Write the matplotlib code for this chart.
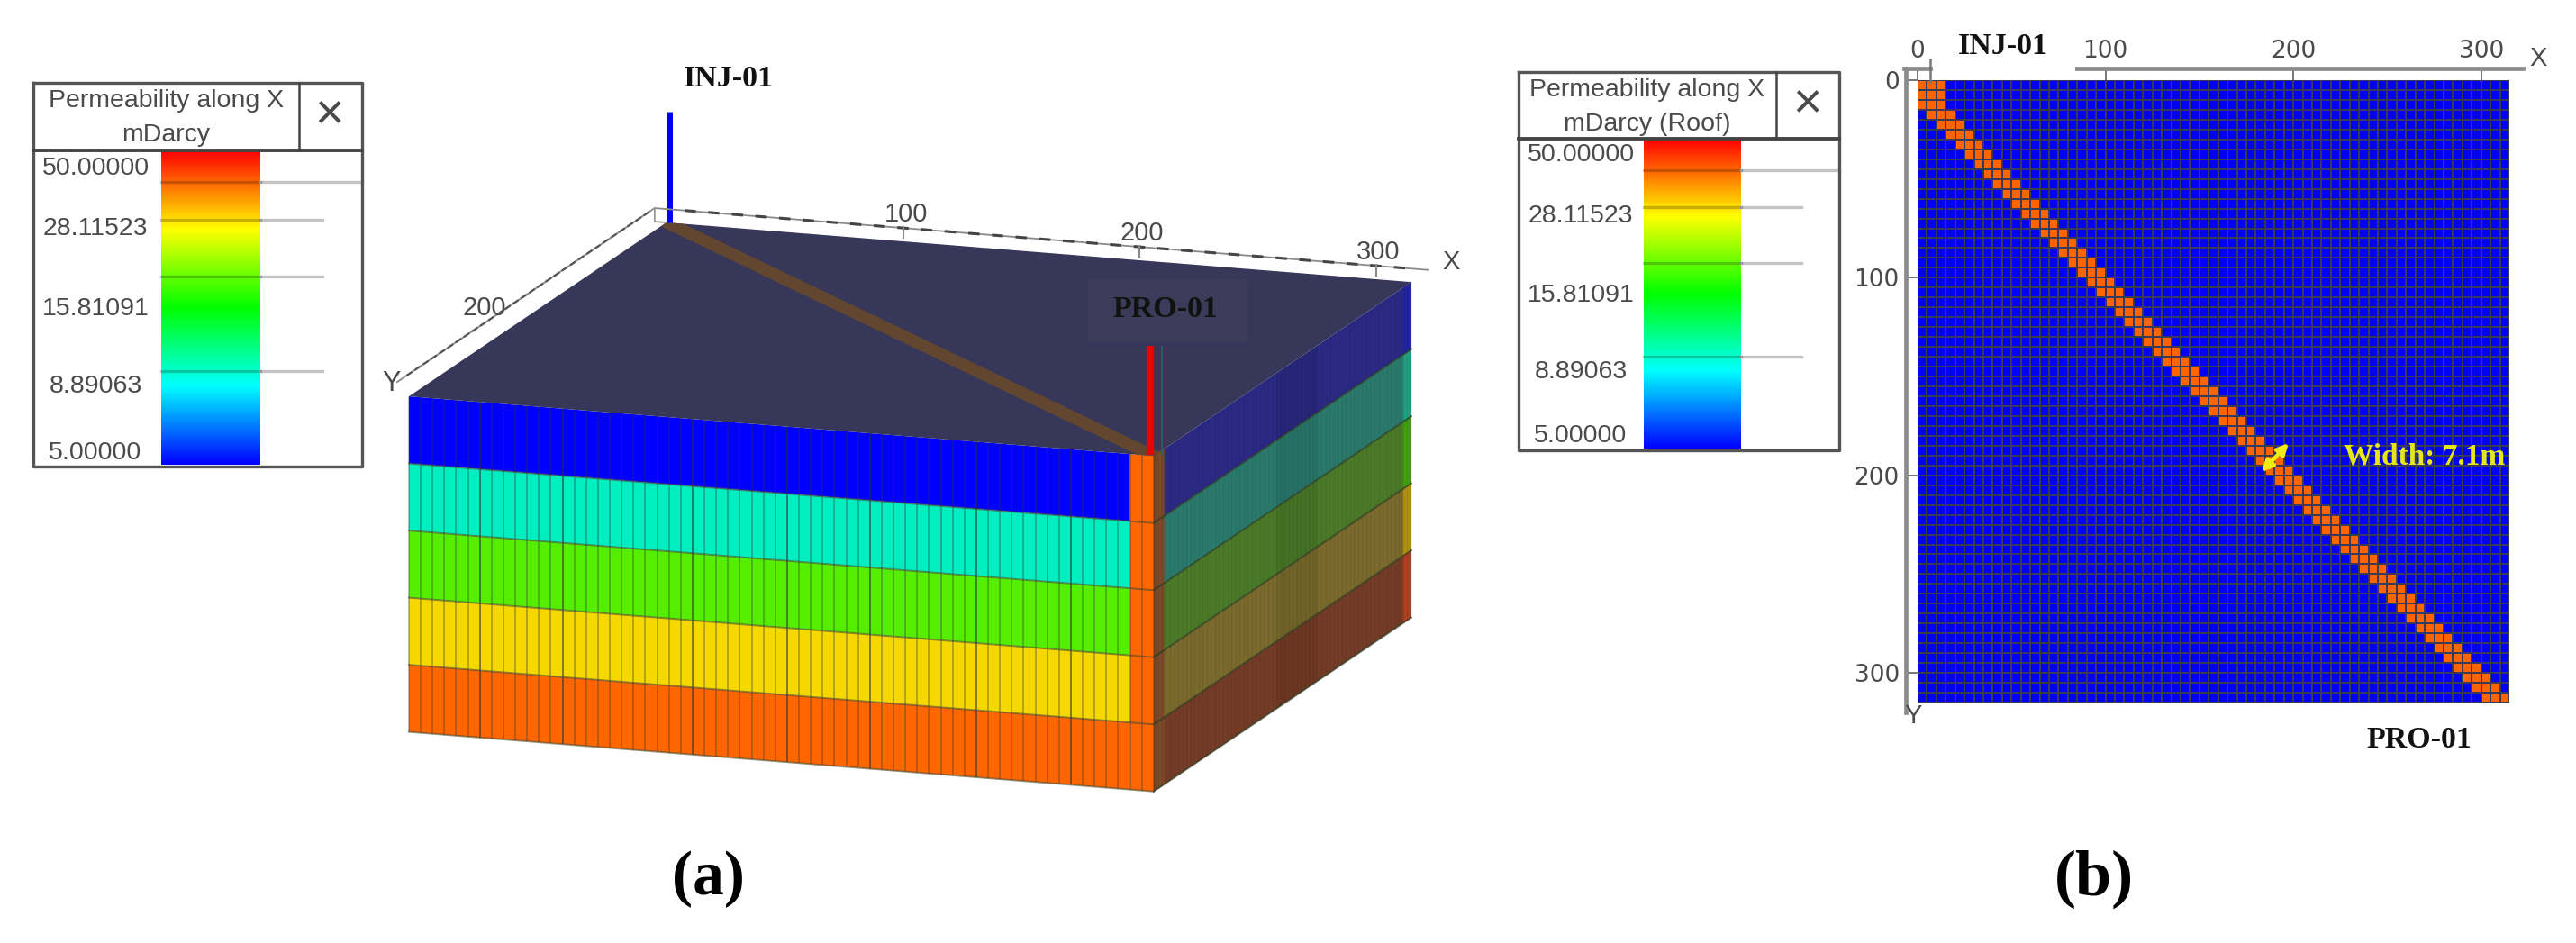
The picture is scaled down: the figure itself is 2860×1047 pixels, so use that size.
import numpy as np
import matplotlib
matplotlib.use("Agg")
import matplotlib.pyplot as plt
from matplotlib.collections import LineCollection
from matplotlib.colors import LinearSegmentedColormap, ListedColormap, LogNorm

#=============
# 1. THE VALUES
#=============
bar_values = [5.0, 8.89063, 15.81091, 28.11523, 50.0]
bar_labels = ["50.00000", "28.11523", "15.81091", "8.89063", "5.00000"]
bar_colors = ["#0000ff", "#00ffff", "#00ff00", "#ffff00", "#ff0000"]

# model grid (metres), 5 layers, cells of 5 m
cell_edges = [5 * i for i in range(64)]
model_size = 315
layer_tops = [0, 1, 2, 3, 4]
layer_colors = ["#0000ff", "#00eec0", "#55ee00", "#f5d800", "#ff6600"]
shade_colors = ["#2a2a84", "#2a7a6c", "#4a7a28", "#7a6a2c", "#743c26"]
edge_colors = ["#2222a4", "#20a080", "#40a010", "#b09010", "#b04020"]
heavy_lines = [6, 13, 24, 32, 39, 48, 56]

axis_ticks = [100, 200, 300]
axis_minor = [10, 20, 30, 40, 50, 60, 70, 80, 90, 110, 120, 130, 140, 150, 160, 170, 180,
              190, 210, 220, 230, 240, 250, 260, 270, 280, 290, 310]

# roof view: first column of the fracture in each row (three cells wide)
band_start = [0, 0, 0, 1, 2, 3, 4, 5, 6, 7, 8, 9, 10, 11, 12, 13, 14, 15, 16, 17, 18,
              19, 20, 21, 22, 23, 24, 25, 26, 27, 28, 29, 30, 31, 32, 33, 34, 35, 36, 37, 38,
              39, 40, 41, 42, 43, 44, 45, 46, 47, 48, 49, 50, 51, 52, 53, 54, 55, 56, 57, 58,
              59, 60]
map_ticks = [0, 100, 200, 300]

SANS = "Liberation Sans"
SERIF = "Liberation Serif"
GREY = "#4a4a4a"

#=================
# 2. BLOCK GEOMETRY
#=================
ORIGIN = (740.0, 247.0)
X_VEC = (2.625, 0.21)
Y_VEC = (-0.908, 0.613)
Z_VEC = 74.5


def project(x, y, z=0.0):
    """model position to canvas pixels"""
    px = ORIGIN[0] + x * X_VEC[0] + y * Y_VEC[0]
    py = ORIGIN[1] + x * X_VEC[1] + y * Y_VEC[1] + z * Z_VEC
    return px, py


def fill_model(ax, pts, color, zorder=2, alpha=None):
    xy = [project(*p) for p in pts]
    ax.fill(*zip(*xy), color=color, lw=0, zorder=zorder, alpha=alpha)


def draw_legend(ax, box, line_y, div_x, bar_x, title, ticks_y, short_x, label_x, label_y, close_xy):
    x0, x1, y0, y1 = box
    ax.fill([x0, x1, x1, x0], [y0, y0, y1, y1], color="white", zorder=3)
    grad = np.geomspace(bar_values[-1], bar_values[0], 256).reshape(-1, 1)
    pos = np.log(bar_values) - np.log(bar_values[0])
    pos = pos / pos[-1]
    cmap = LinearSegmentedColormap.from_list("rainbow5", list(zip(pos, bar_colors)))
    ax.imshow(grad, cmap=cmap, norm=LogNorm(bar_values[0], bar_values[-1]), aspect="auto",
              extent=(bar_x[0], bar_x[1], y1 - 2, line_y), zorder=4, interpolation="bilinear")
    ax.plot([x0, x1, x1, x0, x0], [y0, y0, y1, y1, y0], color="#555555", lw=2.4, zorder=6)
    ax.plot([x0, x1], [line_y, line_y], color="#444444", lw=2.8, zorder=6)
    ax.plot([div_x, div_x], [y0, line_y], color="#444444", lw=1.8, zorder=6)
    for i, y in enumerate(ticks_y):
        end = x1 if i == 0 else short_x
        ax.plot([bar_x[1], end], [y, y], color="#c4c4c4", lw=2.4, zorder=5)
        ax.plot(bar_x, [y, y], color="black", alpha=0.22, lw=2.4, zorder=5)
    for lab, y in zip(bar_labels, label_y):
        ax.text(label_x, y, lab, family=SANS, fontsize=20.5, color=GREY, ha="center", va="center", zorder=7)
    ax.text((x0 + div_x) / 2, y0 + 20, title[0], family=SANS, fontsize=20.5, color=GREY,
            ha="center", va="center", zorder=7)
    ax.text((x0 + div_x) / 2, y0 + 58, title[1], family=SANS, fontsize=20.5, color=GREY,
            ha="center", va="center", zorder=7)
    ax.text(close_xy[0], close_xy[1], "\u00d7", family=SANS, fontsize=40, color=GREY,
            ha="center", va="center", zorder=7)


#===============
# 3. FIGURE SETUP
#===============
W, H = 2860, 1047
fig = plt.figure(figsize=(W / 100, H / 100), dpi=100)

# roof map lives in its own axes with real metre scales
ax_map = fig.add_axes([2129 / W, (H - 780) / H, 657 / W, 691 / H], zorder=1)
canvas = fig.add_axes([0, 0, 1, 1], zorder=2)
canvas.patch.set_alpha(0)
canvas.axis("off")

#=================
# 4. 3D BLOCK (a)
#=================
n_layers = len(layer_tops)

# left face
for k, col in zip(layer_tops, layer_colors):
    fill_model(canvas, [(0, model_size, k), (305, model_size, k), (305, model_size, k + 1), (0, model_size, k + 1)], col)
fill_model(canvas, [(305, model_size, 0), (model_size, model_size, 0), (model_size, model_size, 5), (305, model_size, 5)], "#ff6600")

segs, heavy = [], []
for i, xe in enumerate(cell_edges):
    seg = [project(xe, model_size, 0), project(xe, model_size, n_layers)]
    (heavy if i in heavy_lines else segs).append(seg)
canvas.add_collection(LineCollection(segs, colors="#303838", alpha=0.42, linewidths=1.1, zorder=3))
canvas.add_collection(LineCollection(heavy, colors="#283030", alpha=0.6, linewidths=1.3, zorder=3))
for k in range(1, n_layers + 1):
    p0, p1 = project(0, model_size, k), project(model_size, model_size, k)
    canvas.plot([p0[0], p1[0]], [p0[1], p1[1]], color="#4a4a30", alpha=0.6, lw=1.4, zorder=3)

# right face
for k, col, col_edge in zip(layer_tops, shade_colors, edge_colors):
    fill_model(canvas, [(model_size, 0, k), (model_size, model_size, k), (model_size, model_size, k + 1), (model_size, 0, k + 1)], col)
    fill_model(canvas, [(model_size, 0, k), (model_size, 10, k), (model_size, 10, k + 1), (model_size, 0, k + 1)], col_edge, zorder=2.1)
fill_model(canvas, [(model_size, 115, 0), (model_size, 165, 0), (model_size, 165, 5), (model_size, 115, 5)], "black", zorder=2.2, alpha=0.07)
fill_model(canvas, [(model_size, 302, 0), (model_size, model_size, 0), (model_size, model_size, 5), (model_size, 302, 5)], "#7a4a2a", zorder=2.3)
right_lines = [[project(model_size, ye, 0), project(model_size, ye, n_layers)] for ye in cell_edges]
canvas.add_collection(LineCollection(right_lines, colors="black", alpha=0.06, linewidths=1.0, zorder=2.4))
for k in range(1, n_layers + 1):
    p0, p1 = project(model_size, 0, k), project(model_size, model_size, k)
    canvas.plot([p0[0], p1[0]], [p0[1], p1[1]], color="#2c3a20", alpha=0.7, lw=1.4, zorder=2.5)

# roof, fracture trace and the lighter box behind the well name
fill_model(canvas, [(0, 0), (model_size, 0), (model_size, model_size), (0, model_size)], "#37375a", zorder=2.6)
canvas.fill([1208, 1385, 1385, 1208], [310, 310, 380, 380], color="#3c3c5a", lw=0, zorder=2.7)
fill_model(canvas, [(0, 0), (7, 0), (model_size, 308), (model_size, model_size), (308, model_size), (0, 7)], "#62462f", zorder=2.8)

# wells
inj = [project(1, 0, 0), project(1, 0, -1.65)]
pro = [project(313, 313, 0), project(313, 313, -1.62)]
canvas.plot(*zip(*inj), color="#0000f0", lw=5, solid_capstyle="butt", zorder=3)
canvas.plot(*zip(*pro), color="#ee0000", lw=6, solid_capstyle="butt", zorder=3)
canvas.plot([1290, 1290], [385, 504], color="#2a5c5c", lw=1.5, zorder=3)

# axes along the roof edges
AX_Z = -0.2
x_start, x_end = project(-5, 0, AX_Z), project(322, 0, AX_Z)
y_start, y_end = project(-5, 0, AX_Z), project(-5, model_size, AX_Z)
canvas.plot([x_start[0], x_end[0]], [x_start[1], x_end[1]], color="#8a8a8a", lw=1.3, zorder=3)
canvas.plot([y_start[0], y_end[0]], [y_start[1], y_end[1]], color="#8a8a8a", lw=1.3, zorder=3)
canvas.plot([x_start[0], x_start[0], 740], [x_start[1], x_start[1] + 15, 247], color="#999999", lw=1.3, zorder=3)
for m in axis_minor + axis_ticks:
    a, b = project(m - 1.8, 0, AX_Z), project(m + 1.8, 0, AX_Z)
    canvas.plot([a[0], b[0]], [a[1], b[1]], color="#444444", lw=2.2, zorder=3)
    if m <= 300:
        a, b = project(-5, m - 2.5, AX_Z), project(-5, m + 2.5, AX_Z)
        canvas.plot([a[0], b[0]], [a[1], b[1]], color="#555555", lw=1.6, zorder=3)
for m in axis_ticks:
    a = project(m, 0, AX_Z)
    canvas.plot([a[0], a[0]], [a[1] - 1, a[1] + 11], color="#888888", lw=1.5, zorder=3)
    canvas.text(a[0] + 3, a[1] - 15, str(m), family=SANS, fontsize=21, color=GREY, ha="center", va="center", zorder=7)
canvas.text(1611, 291, "X", family=SANS, fontsize=21, color=GREY, ha="center", va="center", zorder=7)
canvas.text(538, 342, "200", family=SANS, fontsize=21, color=GREY, ha="center", va="center", zorder=7)
canvas.text(435, 426, "Y", family=SANS, fontsize=22, color=GREY, ha="center", va="center", zorder=7)

canvas.text(809, 87, "INJ-01", family=SERIF, weight="bold", fontsize=24.5, color="#111111", ha="center", va="center", zorder=7)
canvas.text(1294, 343, "PRO-01", family=SERIF, weight="bold", fontsize=24.5, color="#111111", ha="center", va="center", zorder=7)
canvas.text(786, 976, "(a)", family=SERIF, weight="bold", fontsize=50, color="black", ha="center", va="center", zorder=7)

draw_legend(canvas, (37, 402, 92, 518), 167, 332, (179, 289), ("Permeability along X", "mDarcy"),
            [202, 244, 307, 412], 358, 106, [187, 254, 343, 429, 503], (365, 128))

#================
# 5. ROOF MAP (b)
#================
cells = np.zeros((63, 63))
for row, first in enumerate(band_start):
    cells[row, first:first + 3] = 1

ax_map.pcolormesh(cell_edges, cell_edges, cells, cmap=ListedColormap(["#0000f2", "#ff6400"]),
                  edgecolors="#3a3a58", linewidth=1.3)
ax_map.set_xlim(0, model_size)
ax_map.set_ylim(model_size, 0)
ax_map.xaxis.tick_top()
ax_map.set_xticks(map_ticks)
ax_map.set_yticks(map_ticks)
ax_map.tick_params(axis="both", direction="in", length=9.5, width=1.4, color="#777777", labelcolor=GREY, labelsize=19)
ax_map.tick_params(axis="x", pad=4)
ax_map.tick_params(axis="y", pad=5)
for lab in ax_map.get_xticklabels() + ax_map.get_yticklabels():
    lab.set_family(SANS)
ax_map.spines["right"].set_visible(False)
ax_map.spines["bottom"].set_visible(False)
for side in ["top", "left"]:
    ax_map.spines[side].set_position(("outward", 9.5))
    ax_map.spines[side].set_linewidth(3.4)
    ax_map.spines[side].set_color("#8c8c8c")
ax_map.spines["top"].set_bounds(-7, 322)
ax_map.spines["left"].set_bounds(-6, 320)

# white gap in the top axis where the well name sits
canvas.fill([2146, 2304, 2304, 2146], [68, 68, 86, 86], color="white", lw=0, zorder=3)
canvas.plot([2143, 2143], [66, 92], color="#777777", lw=1.8, zorder=4)
canvas.text(2224, 52, "INJ-01", family=SERIF, weight="bold", fontsize=24.5, color="#111111", ha="center", va="center", zorder=7)
canvas.text(2686, 822, "PRO-01", family=SERIF, weight="bold", fontsize=24.5, color="#111111", ha="center", va="center", zorder=7)
canvas.text(2818, 65, "X", family=SANS, fontsize=21, color=GREY, ha="center", va="center", zorder=7)
canvas.text(2124, 795, "Y", family=SANS, fontsize=21, color=GREY, ha="center", va="center", zorder=7)
canvas.text(2692, 507, "Width: 7.1m", family=SERIF, weight="bold", fontsize=24, color="#e6e61e", ha="center", va="center", zorder=7)
canvas.annotate("", xy=(2541, 492), xytext=(2511, 524), zorder=7,
                arrowprops=dict(arrowstyle="<|-|>", color="#f4ee10", lw=3.2, mutation_scale=18, shrinkA=0, shrinkB=0))
canvas.text(2325, 976, "(b)", family=SERIF, weight="bold", fontsize=52, color="black", ha="center", va="center", zorder=7)

draw_legend(canvas, (1686, 2042, 80, 500), 154, 1972, (1825, 1933), ("Permeability along X", "mDarcy (Roof)"),
            [189, 230, 292, 396], 2000, 1755, [172, 240, 328, 413, 484], (2006, 116))

canvas.set_xlim(0, W)
canvas.set_ylim(H, 0)

fig.savefig("out.png", dpi=100, facecolor="white")
